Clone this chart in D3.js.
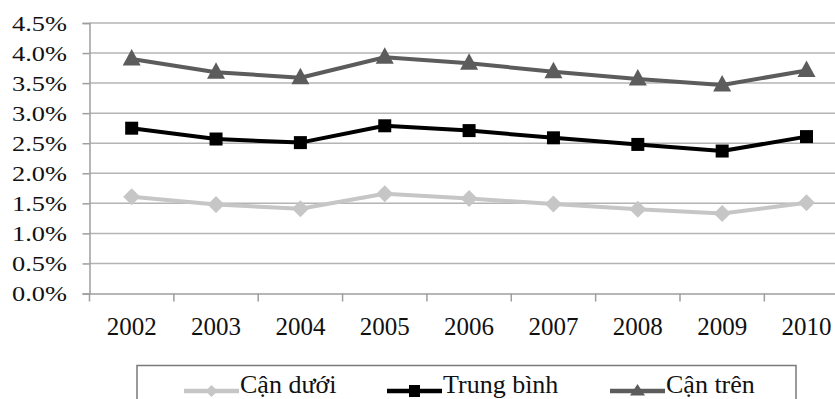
<!DOCTYPE html>
<html>
<head>
<meta charset="utf-8">
<script src="https://cdn.jsdelivr.net/npm/d3@7"></script>
<style>
  html, body { margin: 0; padding: 0; background: #fff; overflow: hidden; }
  svg { display: block; font-family: "Liberation Serif", "Times New Roman", serif; }
</style>
</head>
<body>
<svg id="chart" width="835" height="399"></svg>
<script>
// Years on the category axis
const years = ["2002", "2003", "2004", "2005", "2006", "2007", "2008", "2009", "2010"];
// Rates in percent
const canDuoi   = [1.61, 1.48, 1.41, 1.66, 1.58, 1.49, 1.40, 1.33, 1.51];
const trungBinh = [2.75, 2.57, 2.51, 2.79, 2.71, 2.59, 2.48, 2.37, 2.61];
const canTren   = [3.90, 3.68, 3.59, 3.93, 3.83, 3.69, 3.57, 3.47, 3.71];
// Value-axis ticks in percent
const yTicks = [0, 0.5, 1.0, 1.5, 2.0, 2.5, 3.0, 3.5, 4.0, 4.5];

const series = [
  { name: "Cận dưới",   values: canDuoi,   color: "#c6c6c6", marker: "diamond" },
  { name: "Trung bình", values: trungBinh, color: "#000000", marker: "square" },
  { name: "Cận trên",   values: canTren,   color: "#5c5c5c", marker: "triangle" }
];

const FONT = '"Liberation Serif", "Times New Roman", serif';
const svg = d3.select("#chart");
const plotLeft = 89.5, plotRight = 848.7, plotTop = 23, plotBottom = 293.5;

const x = d3.scaleBand().domain(years).range([plotLeft, plotRight]);
const y = d3.scaleLinear().domain([0, 4.5]).range([plotBottom, plotTop]);

// Horizontal gridlines
svg.append("g")
  .selectAll("line")
  .data(yTicks.filter(t => t > 0))
  .join("line")
  .attr("x1", plotLeft).attr("x2", plotRight)
  .attr("y1", d => y(d)).attr("y2", d => y(d))
  .attr("stroke", "#b4b4b4").attr("stroke-width", 1.5);

// Y axis
const yAxis = svg.append("g")
  .attr("transform", `translate(${plotLeft},0)`)
  .call(d3.axisLeft(y).tickValues(yTicks).tickSize(7).tickPadding(0).tickFormat(d => d3.format(".1f")(d) + "%"))
  .attr("font-family", FONT);
yAxis.select(".domain").attr("stroke", "#9e9e9e").attr("stroke-width", 1.5);
yAxis.selectAll(".tick line").attr("stroke", "#9e9e9e").attr("stroke-width", 1.5);
yAxis.selectAll(".tick text")
  .attr("fill", "#111")
  .attr("font-size", 20)
  .attr("text-anchor", "end")
  .attr("dy", null)
  .attr("x", null)
  .attr("transform", "translate(-22.5,7) scale(1.32,1)");

// X axis
const xAxis = svg.append("g")
  .attr("transform", `translate(0,${plotBottom})`)
  .call(d3.axisBottom(x).tickSize(0).tickPadding(0))
  .attr("font-family", FONT);
xAxis.select(".domain").attr("stroke", "#9e9e9e").attr("stroke-width", 1.5);
xAxis.selectAll(".tick text")
  .attr("fill", "#111")
  .attr("font-size", 25)
  .attr("dy", null)
  .attr("y", 41.5);
// Category boundary ticks
svg.append("g")
  .selectAll("line")
  .data(years)
  .join("line")
  .attr("x1", d => x(d)).attr("x2", d => x(d))
  .attr("y1", plotBottom).attr("y2", plotBottom + 8)
  .attr("stroke", "#9e9e9e").attr("stroke-width", 1.5);

const line = d3.line().x((d, i) => x(years[i]) + x.bandwidth() / 2).y(d => y(d));

function markerPath(kind) {
  if (kind === "diamond") return "M0,-8.5L8.5,0L0,8.5L-8.5,0Z";
  if (kind === "square") return "M-6.5,-6.5H6.5V6.5H-6.5Z";
  return "M0,-10L9,6.5H-9Z";
}
function legendMarker(kind) {
  if (kind === "diamond") return "M0,-6L6,0L0,6L-6,0Z";
  if (kind === "square") return "M-5.5,-6H5.5V6H-5.5Z";
  return "M0,-7L7.5,4.5H-7.5Z";
}

series.forEach(s => {
  const g = svg.append("g");
  g.append("path")
    .attr("d", line(s.values))
    .attr("fill", "none")
    .attr("stroke", s.color)
    .attr("stroke-width", 4)
    .attr("stroke-linejoin", "round");
  g.selectAll("path.m")
    .data(s.values)
    .join("path")
    .attr("class", "m")
    .attr("transform", (d, i) => `translate(${x(years[i]) + x.bandwidth() / 2},${y(d)})`)
    .attr("d", markerPath(s.marker))
    .attr("fill", s.color);
});

// Legend
const legend = svg.append("g");
legend.append("rect")
  .attr("x", 137).attr("y", 365.5)
  .attr("width", 659).attr("height", 60)
  .attr("fill", "#fff")
  .attr("stroke", "#7a7a7a").attr("stroke-width", 1.5);

const legendX = [184, 387, 610];
series.forEach((s, i) => {
  const g = legend.append("g").attr("transform", `translate(${legendX[i]},391)`);
  g.append("line")
    .attr("x1", 0).attr("x2", 55)
    .attr("stroke", s.color).attr("stroke-width", 4.5);
  g.append("path")
    .attr("transform", "translate(27.5,0)")
    .attr("d", legendMarker(s.marker))
    .attr("fill", s.color);
  g.append("text")
    .attr("x", 56).attr("y", 2)
    .attr("font-size", 26)
    .attr("fill", "#111")
    .text(s.name);
});
</script>
</body>
</html>
